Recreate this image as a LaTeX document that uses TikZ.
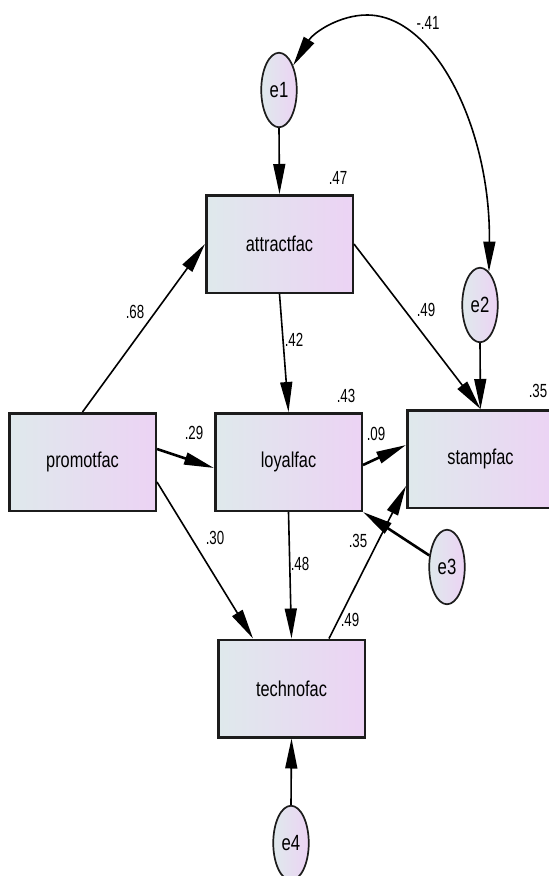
\documentclass[tikz,border=0pt]{standalone}
\usepackage{fontspec}
\usepackage{graphicx}
\setmainfont{Liberation Sans}
\usetikzlibrary{arrows.meta,shapes.geometric,calc}
\definecolor{fillL}{RGB}{223,233,236}
\definecolor{fillR}{RGB}{236,211,244}
\definecolor{bord}{RGB}{28,28,28}
\newcommand{\nmtxt}[1]{\scalebox{0.76}[1]{#1}}
\newcommand{\cftxt}[1]{\scalebox{0.7}[1]{#1}}
\begin{document}
\begin{tikzpicture}[x=1pt,y=-1pt,
  varbox/.style={rectangle, draw=bord, line width=2.5pt, minimum width=146.5pt, minimum height=97.5pt,
    left color=fillL, right color=fillR, inner sep=0pt, font=\fontsize{21.5}{21.5}\selectfont},
  errnode/.style={ellipse, draw=bord, line width=1.7pt, minimum width=35.5pt, minimum height=74.5pt,
    left color=fillL, right color=fillR, inner sep=0pt, font=\fontsize{22}{22}\selectfont},
  coef/.style={inner sep=0pt, font=\fontsize{19}{19}\selectfont},
  conn/.style={draw=black, line width=1.6pt, -{Triangle[length=30pt,width=12pt]}},
  connthick/.style={conn, line width=2.6pt},
  covar/.style={draw=black, line width=1.6pt, {Triangle[length=30pt,width=12pt]}-{Triangle[length=30pt,width=12pt]}}
]
\fill[white] (0,0) rectangle (549,876);
\clip (0,0) rectangle (549,876);

% variables
\node[varbox] (attract) at (279.5,244) {\nmtxt{attractfac}};
\node[varbox] (promot)  at (82.5,462)  {\nmtxt{promotfac}};
\node[varbox] (loyal)   at (288.5,462) {\nmtxt{loyalfac}};
\node[varbox] (stamp)   at (480.5,459) {\nmtxt{stampfac}};
\node[varbox] (techno)  at (291.5,688.5) {\nmtxt{technofac}};

% error terms
\node[errnode] (e1) at (279,90)  {\nmtxt{e1}};
\node[errnode] (e2) at (480,305) {\nmtxt{e2}};
\node[errnode] (e3) at (447,567) {\nmtxt{e3}};
\node[errnode] (e4) at (291,843) {\nmtxt{e4}};

% coefficients
\node[coef] (c41)  at (428,23)  {\cftxt{-.41}};
\node[coef] (c47)  at (338,178) {\cftxt{.47}};
\node[coef] (c68)  at (135,312) {\cftxt{.68}};
\node[coef] (c42)  at (294,340) {\cftxt{.42}};
\node[coef] (c49a) at (426,310) {\cftxt{.49}};
\node[coef] (c43)  at (346,396) {\cftxt{.43}};
\node[coef] (c35a) at (538,391) {\cftxt{.35}};
\node[coef] (c29)  at (194,433) {\cftxt{.29}};
\node[coef] (c09)  at (376,434) {\cftxt{.09}};
\node[coef] (c30)  at (215,538) {\cftxt{.30}};
\node[coef] (c35b) at (358,541) {\cftxt{.35}};
\node[coef] (c48)  at (300,564) {\cftxt{.48}};
\node[coef] (c49b) at (350,620) {\cftxt{.49}};

% paths
\draw[conn] (e1.south) -- (attract.north);
\draw[conn] (promot.north) -- (attract.west);
\draw[conn] (attract.south) -- (loyal.north);
\draw[conn] (attract.east) -- (stamp.north);
\draw[conn] (e2.south) -- (stamp.north);
\draw[connthick] ([yshift=13pt]promot.east) -- ([yshift=-6pt]loyal.west);
\draw[connthick] ([yshift=-3pt]loyal.east) -- ([yshift=14pt]stamp.west);
\draw[conn] ([xshift=37.5pt]techno.north) -- ([yshift=-27pt]stamp.west);
\draw[conn] ([yshift=-20pt]promot.east) -- ([xshift=-38.5pt]techno.north);
\draw[conn] (loyal.south) -- (techno.north);
\draw[connthick] (e3) -- (loyal.south east);
\draw[conn] (e4.north) -- (techno.south);

% covariance
\coordinate (ctop) at (367,15);
\draw[covar] (e1.60) .. controls (314,32) and (340,15) .. (ctop)
  .. controls (435.5,15) and (491,130.5) .. (e2.75);
\end{tikzpicture}
\end{document}
